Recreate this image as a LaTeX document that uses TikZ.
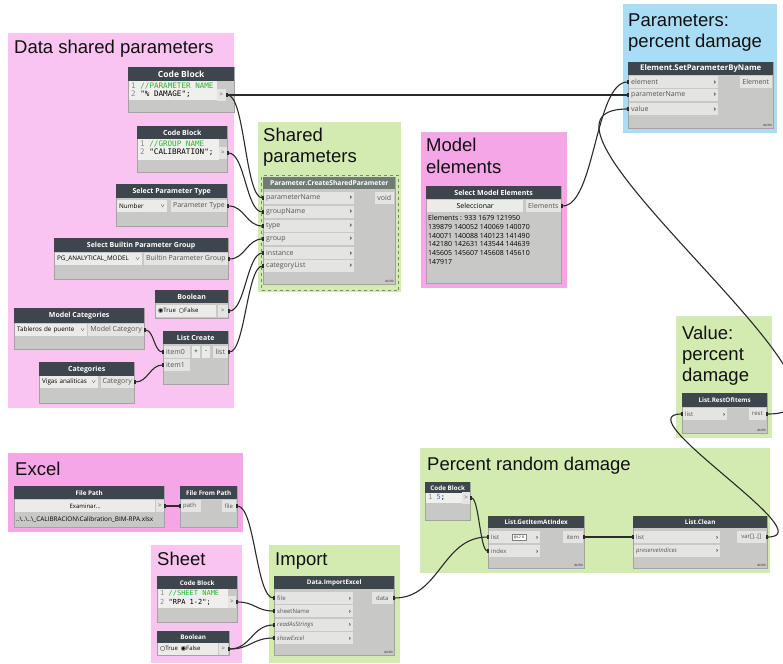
\documentclass[tikz,border=0pt]{standalone}
\usepackage{fontspec}
\setmainfont{Liberation Sans}
\newfontfamily\dynfont{Open Sans}
\newfontfamily\codefont{DejaVu Sans Mono}
\newfontfamily\symfont{DejaVu Sans}
\usetikzlibrary{arrows.meta,positioning}

\definecolor{grpPink}{HTML}{F9C4F0}
\definecolor{grpPinkDeep}{HTML}{F5A6E6}
\definecolor{grpGreen}{HTML}{D3EBB1}
\definecolor{grpBlue}{HTML}{A9DCF5}
\definecolor{headDark}{HTML}{3D464C}
\definecolor{headSel}{HTML}{707B76}
\definecolor{selEdge}{HTML}{6F8F5C}
\definecolor{nodeBody}{HTML}{C8C9C6}
\definecolor{nodeEdge}{HTML}{A3A4A1}
\definecolor{portFill}{HTML}{E4E5E2}
\definecolor{pickFill}{HTML}{EBEBEA}
\definecolor{codeFill}{HTML}{EFEFED}
\definecolor{codeGreen}{HTML}{2DB52D}
\definecolor{codeBlue}{HTML}{3A6FD8}
\definecolor{lineNum}{HTML}{8A8A8A}
\definecolor{portInk}{HTML}{555555}
\definecolor{titleInk}{HTML}{111111}
\definecolor{wireInk}{HTML}{2B2B2B}

\newcommand{\portfont}{\dynfont\fontsize{6}{7}\selectfont}
\newcommand{\portfontL}{\dynfont\fontsize{7}{8}\selectfont}
\newcommand{\pickfont}{\dynfont\fontsize{6.3}{7}\selectfont}
\newcommand{\headfont}{\dynfont\bfseries\fontsize{6.3}{7}\selectfont}
\newcommand{\headfontL}{\dynfont\bfseries\fontsize{7}{8}\selectfont}
\newcommand{\chev}{{\bfseries\color{black!75}›}}
\newcommand{\dropmark}{\raisebox{0.5pt}{$\scriptscriptstyle\vee$}}
\newcommand{\radioOn}{{\symfont ◉}}
\newcommand{\radioOff}{{\symfont ○}}

\begin{document}
\begin{tikzpicture}[
    x=1pt, y=-1pt,
    grp/.style={rectangle, anchor=north west, inner sep=0pt, fill=#1},
    gtitle/.style={anchor=base west, align=left, inner sep=0pt, text=titleInk, font=\fontsize{18.5}{21}\selectfont},
    nbody/.style={rectangle, anchor=north west, inner sep=0pt, draw=nodeEdge, fill=nodeBody},
    nhead/.style={rectangle, anchor=north west, inner sep=0pt, fill=headDark, text=white, font=\headfont, minimum height=#1},
    nhead/.default=13,
    inport/.style={rectangle, anchor=west, inner ysep=0pt, inner xsep=2pt, minimum height=12, fill=portFill, text=portInk, font=\portfont, text width=#1, align=left},
    outport/.style={rectangle, anchor=east, inner ysep=0pt, inner xsep=2pt, minimum height=12, minimum width=#1, fill=portFill, text=portInk, font=\portfont},
    pick/.style={rectangle, anchor=west, inner ysep=0pt, inner xsep=2pt, minimum height=12, text width=#1, fill=pickFill, text=black, font=\pickfont, align=left},
    button/.style={rectangle, anchor=west, inner sep=0pt, minimum height=12, minimum width=#1, fill=pickFill, text=black, font=\portfont},
    codearea/.style={rectangle, anchor=north west, inner sep=0pt, fill=codeFill, minimum width=#1},
    codetext/.style={anchor=north west, align=left, inner sep=0pt, font=\codefont\fontsize{7}{8.6}\selectfont},
    spin/.style={rectangle, anchor=west, draw=gray, fill=white, inner sep=0.5pt, minimum width=14, minimum height=6, font=\dynfont\fontsize{3.5}{4}\selectfont},
    autotag/.style={anchor=south east, inner sep=1.5pt, text=portInk, font=\dynfont\bfseries\fontsize{3}{3}\selectfont},
    wire/.style={draw=wireInk, line width=1.1pt, {Rectangle[length=2pt,width=3.5pt]}-{Rectangle[length=2pt,width=3.5pt]}}
]

\useasboundingbox (0,0) rectangle (783,663);
\clip (0,0) rectangle (783,663);
\fill[white] (0,0) rectangle (783,663);

% Groups (title anchors sit on the last line)
\node[grp=grpPink, minimum width=226, minimum height=375] (gData) at (8,33) {};
\node[gtitle] (tData) at (14,54) {Data shared parameters};
\node[grp=grpGreen, minimum width=143, minimum height=170] (gShared) at (258,122) {};
\node[gtitle] (tShared) at (263,163) {Shared\\parameters};
\node[grp=grpPinkDeep, minimum width=146, minimum height=156] (gModel) at (421,132) {};
\node[gtitle] (tModel) at (426,173) {Model\\elements};
\node[grp=grpBlue, minimum width=154, minimum height=129] (gParam) at (623,4) {};
\node[gtitle] (tParam) at (628,48) {Parameters:\\percent damage};
\node[grp=grpGreen, minimum width=96, minimum height=122] (gValue) at (676,316) {};
\node[gtitle] (tValue) at (682,381) {Value:\\percent\\damage};
\node[grp=grpPinkDeep, minimum width=235, minimum height=79] (gExcel) at (8,453) {};
\node[gtitle] (tExcel) at (15,475) {Excel};
\node[grp=grpPink, minimum width=91, minimum height=118] (gSheet) at (151,545) {};
\node[gtitle] (tSheet) at (157,565) {Sheet};
\node[grp=grpGreen, minimum width=131, minimum height=118] (gImport) at (269,545) {};
\node[gtitle] (tImport) at (275,565) {Import};
\node[grp=grpGreen, minimum width=350, minimum height=125] (gRandom) at (420,448) {};
\node[gtitle] (tRandom) at (427,470) {Percent random damage};

% Code block - parameter name
\node[nbody, minimum width=106, minimum height=45] (cb1) at (128,67) {};
\node[nhead=14, minimum width=106, font=\dynfont\bfseries\fontsize{8.5}{9}\selectfont] (cb1h) at (cb1.north west) {Code Block};
\node[codearea=88, minimum height=19] (cb1c) at (129,81) {};
\node[codetext, font=\codefont\fontsize{7.6}{8.6}\selectfont] (cb1t) at (131,82.5) {\textcolor{lineNum}{1} \textcolor{codeGreen}{//PARAMETER NAME}\\\textcolor{lineNum}{2} "\% DAMAGE";};
\node[outport=9pt] (cb1Out) at (226,95) {>};

% Code block - group name
\node[nbody, minimum width=90, minimum height=46] (cb2) at (137,126) {};
\node[nhead, minimum width=90, font=\headfontL] (cb2h) at (cb2.north west) {Code Block};
\node[codearea=81, minimum height=21] (cb2c) at (138,139) {};
\node[codetext, font=\codefont\fontsize{7.6}{8.6}\selectfont] (cb2t) at (140,140.5) {\textcolor{lineNum}{1} \textcolor{codeGreen}{//GROUP NAME}\\\textcolor{lineNum}{2} "CALIBRATION";};
\node[outport=8pt] (cb2Out) at (227,153) {>};

% Parameter type
\node[nbody, minimum width=111, minimum height=42] (spt) at (116,184) {};
\node[nhead=14, minimum width=111, font=\headfontL] (spth) at (spt.north west) {Select Parameter Type};
\node[pick=46pt] (sptPick) at (117,206) {Number\hfill\dropmark};
\node[outport=55pt, font=\portfontL] (sptOut) at (227,206) {Parameter Type};

% Builtin parameter group
\node[nbody, minimum width=174, minimum height=41] (bpg) at (54,238) {};
\node[nhead=14, minimum width=174, font=\headfontL] (bpgh) at (bpg.north west) {Select Builtin Parameter Group};
\node[pick=83pt] (bpgPick) at (55,259) {PG\_ANALYTICAL\_MODEL\hfill\dropmark};
\node[outport=84pt, font=\portfontL] (bpgOut) at (228,259) {Builtin Parameter Group};

% Boolean - instance
\node[nbody, minimum width=73, minimum height=28] (boolA) at (155,290) {};
\node[nhead, minimum width=73, font=\headfontL] (boolAh) at (boolA.north west) {Boolean};
\node[pick=56pt, font=\portfont] (boolARadio) at (156,311) {\radioOn True\enspace\radioOff False};
\node[outport=10pt] (boolAOut) at (228,311) {>};

% Model categories
\node[nbody, minimum width=130, minimum height=41] (mc) at (14,308) {};
\node[nhead=15, minimum width=130, font=\headfontL] (mch) at (mc.north west) {Model Categories};
\node[pick=68pt] (mcPick) at (15,330) {Tableros de puente\hfill\dropmark};
\node[outport=55pt, font=\portfontL] (mcOut) at (144,330) {Model Category};

% List create
\node[nbody, minimum width=65, minimum height=53] (lc) at (163,331) {};
\node[nhead, minimum width=65, font=\headfontL] (lch) at (lc.north west) {List Create};
\node[inport=22pt, font=\portfontL] (lcItem0) at (164,352) {item0};
\node[inport=22pt, font=\portfontL] (lcItem1) at (164,365) {item1};
\node[button=8] (lcAdd) at (192,352) {+};
\node[button=8] (lcDel) at (202,352) {-};
\node[outport=15pt, font=\portfontL] (lcOut) at (228,352) {list};

% Categories
\node[nbody, minimum width=95, minimum height=41] (cat) at (39,362) {};
\node[nhead=14, minimum width=95, font=\headfontL] (cath) at (cat.north west) {Categories};
\node[pick=54pt] (catPick) at (40,382) {Vigas analiticas\hfill\dropmark};
\node[outport=33pt, font=\portfontL] (catOut) at (134,382) {Category};

% Create shared parameter
\node[rectangle, anchor=north west, draw=selEdge, dashed, line width=1pt, minimum width=137, minimum height=115] (cspFrame) at (261,175) {};
\node[nbody, minimum width=132, minimum height=107] (csp) at (263,177) {};
\node[nhead=12, fill=headSel, minimum width=132, font=\dynfont\bfseries\fontsize{6.7}{7}\selectfont] (csph) at (csp.north west) {Parameter.CreateSharedParameter};
\node[inport=86pt, font=\portfontL] (cspPname) at (264,198) {parameterName\hfill\chev};
\node[inport=86pt, font=\portfontL] (cspGname) at (264,212) {groupName\hfill\chev};
\node[inport=86pt, font=\portfontL] (cspType) at (264,226) {type\hfill\chev};
\node[inport=86pt, font=\portfontL] (cspGroup) at (264,239) {group\hfill\chev};
\node[inport=86pt, font=\portfontL] (cspInst) at (264,253) {instance\hfill\chev};
\node[inport=86pt, font=\portfontL] (cspCats) at (264,266) {categoryList\hfill\chev};
\node[outport=19pt, font=\portfontL] (cspVoid) at (394,198) {void};
\node[autotag] (cspAuto) at (csp.south east) {AUTO};

% Select model elements
\node[nbody, minimum width=135, minimum height=97] (sme) at (426,186) {};
\node[nhead, minimum width=135, font=\headfontL] (smeh) at (sme.north west) {Select Model Elements};
\node[button=96, font=\portfontL] (smeBtn) at (427,206) {Seleccionar};
\node[outport=35pt, font=\portfontL] (smeOut) at (561,206) {Elements};
\node[anchor=north west, align=left, inner sep=0pt, font=\dynfont\fontsize{7}{8.8}\selectfont] (smeList) at (428,215) {Elements : 933 1679 121950\\139879 140052 140069 140070\\140071 140088 140123 141490\\142180 142631 143544 144639\\145605 145607 145608 145610\\147917};

% Set parameter by name
\node[nbody, minimum width=145, minimum height=66] (el) at (628,62) {};
\node[nhead, minimum width=145, font=\dynfont\bfseries\fontsize{7.8}{8}\selectfont] (elh) at (el.north west) {Element.SetParameterByName};
\node[inport=85pt, font=\portfontL] (elElem) at (629,82) {element\hfill\chev};
\node[inport=85pt, font=\portfontL] (elPname) at (629,95) {parameterName\hfill\chev};
\node[inport=85pt, font=\portfontL] (elValue) at (629,109) {value\hfill\chev};
\node[outport=32pt, font=\portfontL] (elOut) at (772,82) {Element};
\node[autotag] (elAuto) at (el.south east) {AUTO};

% Rest of items
\node[nbody, minimum width=85, minimum height=40] (roi) at (682,393) {};
\node[nhead=14, minimum width=85] (roih) at (roi.north west) {List.RestOfItems};
\node[inport=40pt] (roiList) at (683,414) {list\hfill\chev};
\node[outport=17pt] (roiRest) at (766,414) {rest};
\node[autotag] (roiAuto) at (roi.south east) {AUTO};

% File path
\node[nbody, minimum width=150, minimum height=41] (fp) at (14,486) {};
\node[nhead, minimum width=150] (fph) at (fp.north west) {File Path};
\node[button=140] (fpBtn) at (15,506) {Examinar...};
\node[outport=8pt] (fpOut) at (164,506) {>};
\node[anchor=west, inner sep=0pt, font=\dynfont\fontsize{6.4}{7}\selectfont] (fpPath) at (16,520) {..\textbackslash..\textbackslash..\textbackslash\_CALIBRACION\textbackslash Calibration\_BIM-RPA.xlsx};

% File from path
\node[nbody, minimum width=57, minimum height=41] (ffp) at (180,486) {};
\node[nhead, minimum width=57] (ffph) at (ffp.north west) {File From Path};
\node[inport=16pt] (ffpPath) at (181,506) {path};
\node[outport=14pt] (ffpFile) at (236,506) {file};

% Code block - sheet name
\node[nbody, minimum width=80, minimum height=46] (shcb) at (157,576) {};
\node[nhead, minimum width=80] (shcbh) at (shcb.north west) {Code Block};
\node[codearea=70, minimum height=19] (shcbc) at (158,589) {};
\node[codetext] (shcbt) at (160,590.5) {\textcolor{lineNum}{1} \textcolor{codeGreen}{//SHEET NAME}\\\textcolor{lineNum}{2} "RPA 1-2";};
\node[outport=8pt] (shcbOut) at (236,602) {>};

% Boolean - read / show
\node[nbody, minimum width=72, minimum height=24] (boolB) at (157,631) {};
\node[nhead=12, minimum width=72] (boolBh) at (boolB.north west) {Boolean};
\node[pick=56pt, font=\portfont] (boolBRadio) at (158,649) {\radioOff True\enspace\radioOn False};
\node[outport=9pt] (boolBOut) at (228,649) {>};

% Import excel
\node[nbody, minimum width=120, minimum height=79] (ie) at (274,576) {};
\node[nhead, minimum width=120] (ieh) at (ie.north west) {Data.ImportExcel};
\node[inport=74pt] (ieFile) at (275,598) {file\hfill\chev};
\node[inport=74pt] (ieSheet) at (275,611) {sheetName\hfill\chev};
\node[inport=74pt] (ieRead) at (275,625) {\textit{readAsStrings}\hfill\chev};
\node[inport=74pt] (ieShow) at (275,638) {\textit{showExcel}\hfill\chev};
\node[outport=21pt] (ieData) at (393,598) {data};
\node[autotag] (ieAuto) at (ie.south east) {AUTO};

% Code block - index
\node[nbody, minimum width=45, minimum height=38] (cb5) at (425,482) {};
\node[nhead=11, minimum width=45] (cb5h) at (cb5.north west) {Code Block};
\node[codearea=37, minimum height=10] (cb5c) at (426,493) {};
\node[codetext] (cb5t) at (428,494) {\textcolor{lineNum}{1} \textcolor{codeBlue}{5};};
\node[outport=7pt] (cb5Out) at (470,498) {>};

% Get item at index
\node[nbody, minimum width=96, minimum height=52] (gi) at (488,516) {};
\node[nhead=12, minimum width=96] (gih) at (gi.north west) {List.GetItemAtIndex};
\node[inport=47pt] (giList) at (489,537) {list\hfill\chev};
\node[inport=47pt] (giIndex) at (489,551) {index\hfill\chev};
\node[spin] (giSpin) at (512,537) {@L2 {\symfont ⇕}};
\node[outport=20pt] (giItem) at (583,537) {item};
\node[autotag] (giAuto) at (gi.south east) {AUTO};

% List clean
\node[nbody, minimum width=134, minimum height=52] (cl) at (633,516) {};
\node[nhead=12, minimum width=134] (clh) at (cl.north west) {List.Clean};
\node[inport=82pt] (clList) at (634,537) {list\hfill\chev};
\node[inport=82pt] (clKeep) at (634,551) {\textit{preserveIndices}\hfill\chev};
\node[outport=29pt] (clVar) at (766,537) {var[]..[]};
\node[autotag] (clAuto) at (cl.south east) {AUTO};

% Wires
\draw[wire] (cb1Out.east) -- (elPname.west);
\draw[wire] (cb1Out.east) .. controls +(19,0) and +(-19,0) .. (cspPname.west);
\draw[wire] (cb2Out.east) .. controls +(18,0) and +(-18,0) .. (cspGname.west);
\draw[wire] (sptOut.east) .. controls +(18,0) and +(-18,0) .. (cspType.west);
\draw[wire] (bpgOut.east) .. controls +(17,0) and +(-17,0) .. (cspGroup.west);
\draw[wire] (boolAOut.east) .. controls +(17,0) and +(-17,0) .. (cspInst.west);
\draw[wire] (lcOut.east) .. controls +(17,0) and +(-17,0) .. (cspCats.west);
\draw[wire] (mcOut.east) .. controls +(10,0) and +(-10,0) .. (lcItem0.west);
\draw[wire] (catOut.east) .. controls +(14,0) and +(-14,0) .. (lcItem1.west);
\draw[wire] (smeOut.east) .. controls +(34,0) and +(-34,0) .. (elElem.west);
\draw[wire] (roiRest.east) .. controls +(140,0) and +(-140,0) .. (elValue.west);
\draw[wire] (fpOut.east) -- (ffpPath.west);
\draw[wire] (ffpFile.east) .. controls +(19,0) and +(-19,0) .. (ieFile.west);
\draw[wire] (shcbOut.east) .. controls +(19,0) and +(-19,0) .. (ieSheet.west);
\draw[wire] (boolBOut.east) .. controls +(23,0) and +(-23,0) .. (ieRead.west);
\draw[wire] (boolBOut.east) .. controls +(23,0) and +(-23,0) .. (ieShow.west);
\draw[wire] (ieData.east) .. controls +(47,0) and +(-47,0) .. (giList.west);
\draw[wire] (cb5Out.east) .. controls +(9,0) and +(-9,0) .. (giIndex.west);
\draw[wire] (giItem.east) -- (clList.west);
\draw[wire] (clVar.east) .. controls +(60,0) and +(-60,0) .. (roiList.west);

\end{tikzpicture}
\end{document}
